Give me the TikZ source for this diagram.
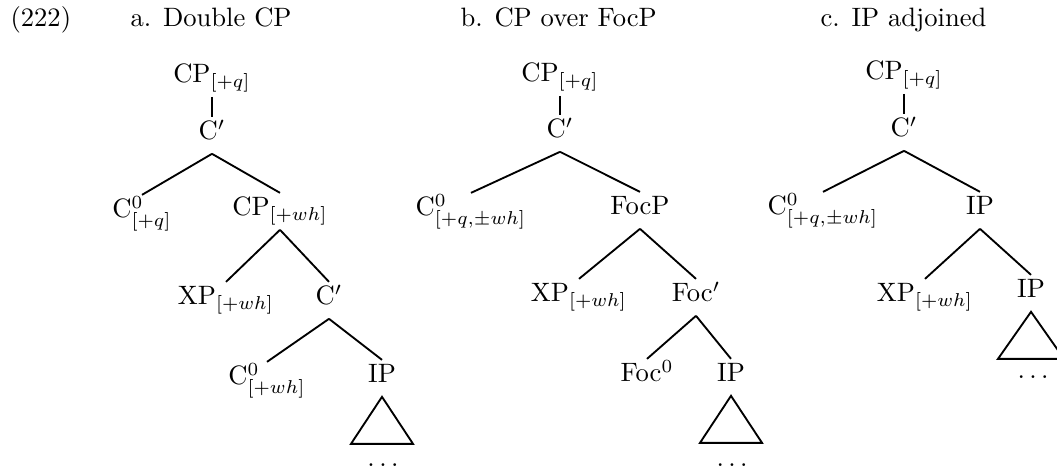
\documentclass[tikz,border=0pt]{standalone}
\usepackage{tikz}
\usetikzlibrary{positioning}
\definecolor{clrline}{HTML}{000000}
\definecolor{clrtext}{HTML}{000000}

\begin{document}
\begin{tikzpicture}[
    x=0.376pt, y=-0.376pt,
    cat/.style={anchor=base, inner sep=1.5pt, text height=7pt, text depth=3.5pt, text=clrtext},
    title/.style={anchor=base west, inner sep=0pt, text=clrtext},
    branch/.style={draw=clrline, line width=0.7pt},
    roof/.style={draw=clrline, line width=0.7pt, line join=miter},
]
\clip (0,0) rectangle (1057,468);
% headings
\node[title] (t_0) at (10,27) {(222)};
\node[title] (t_a) at (130,27) {a. Double CP};
\node[title] (t_b) at (460,27) {b. CP over FocP};
\node[title] (t_c) at (820,27) {c. IP adjoined};
% tree a
\node[cat] (n_a1) at (212,83) {CP$_{[+q]}$};
\node[cat] (n_a2) at (212,140) {C$'$};
\node[cat] (n_a3) at (142,218) {C$^0_{[+q]}$};
\node[cat] (n_a4) at (280,216) {CP$_{[+wh]}$};
\node[cat] (n_a5) at (226,305) {XP$_{[+wh]}$};
\node[cat] (n_a6) at (329,305) {C$'$};
\node[cat] (n_a7) at (267,385) {C$^0_{[+wh]}$};
\node[cat] (n_a8) at (382,383) {IP};
\node[cat, inner sep=0pt, text height=, text depth=] (n_a9) at (383,466) {$\ldots$};
\draw[branch] (n_a1.south) -- (n_a2.north);
\draw[branch] (n_a2.south) -- (n_a3.north);
\draw[branch] (n_a2.south) -- (n_a4.north);
\draw[branch] (n_a4.south) -- (n_a5.north);
\draw[branch] (n_a4.south) -- (n_a6.north);
\draw[branch] (n_a6.south) -- (n_a7.north);
\draw[branch] (n_a6.south) -- (n_a8.north);
\draw[roof] (n_a8.south) -- ++(-31,47) -- ++(62,0) -- cycle;
% tree b
\node[cat] (n_b1) at (560,82) {CP$_{[+q]}$};
\node[cat] (n_b2) at (560,138) {C$'$};
\node[cat] (n_b3) at (471,216) {C$^0_{[+q,\pm wh]}$};
\node[cat] (n_b4) at (640,215) {FocP};
\node[cat] (n_b5) at (579,302) {XP$_{[+wh]}$};
\node[cat] (n_b6) at (696,302) {Foc$'$};
\node[cat] (n_b7) at (647,382) {Foc$^0$};
\node[cat] (n_b8) at (731,382) {IP};
\node[cat, inner sep=0pt, text height=, text depth=] (n_b9) at (732,466) {$\ldots$};
\draw[branch] (n_b1.south) -- (n_b2.north);
\draw[branch] (n_b2.south) -- (n_b3.north);
\draw[branch] (n_b2.south) -- (n_b4.north);
\draw[branch] (n_b4.south) -- (n_b5.north);
\draw[branch] (n_b4.south) -- (n_b6.north);
\draw[branch] (n_b6.south) -- (n_b7.north);
\draw[branch] (n_b6.south) -- (n_b8.north);
\draw[roof] (n_b8.south) -- ++(-31,47) -- ++(62,0) -- cycle;
% tree c
\node[cat] (n_c1) at (904,80) {CP$_{[+q]}$};
\node[cat] (n_c2) at (904,137) {C$'$};
\node[cat] (n_c3) at (823,215) {C$^0_{[+q,\pm wh]}$};
\node[cat] (n_c4) at (980,215) {IP};
\node[cat] (n_c5) at (925,302) {XP$_{[+wh]}$};
\node[cat] (n_c6) at (1031,298) {IP};
\node[cat, inner sep=0pt, text height=, text depth=] (n_c7) at (1033,379) {$\ldots$};
\draw[branch] (n_c1.south) -- (n_c2.north);
\draw[branch] (n_c2.south) -- (n_c3.north);
\draw[branch] (n_c2.south) -- (n_c4.north);
\draw[branch] (n_c4.south) -- (n_c5.north);
\draw[branch] (n_c4.south) -- (n_c6.north);
\draw[roof] (n_c6.south) -- ++(-33,47) -- ++(66,0) -- cycle;
\end{tikzpicture}
\end{document}
